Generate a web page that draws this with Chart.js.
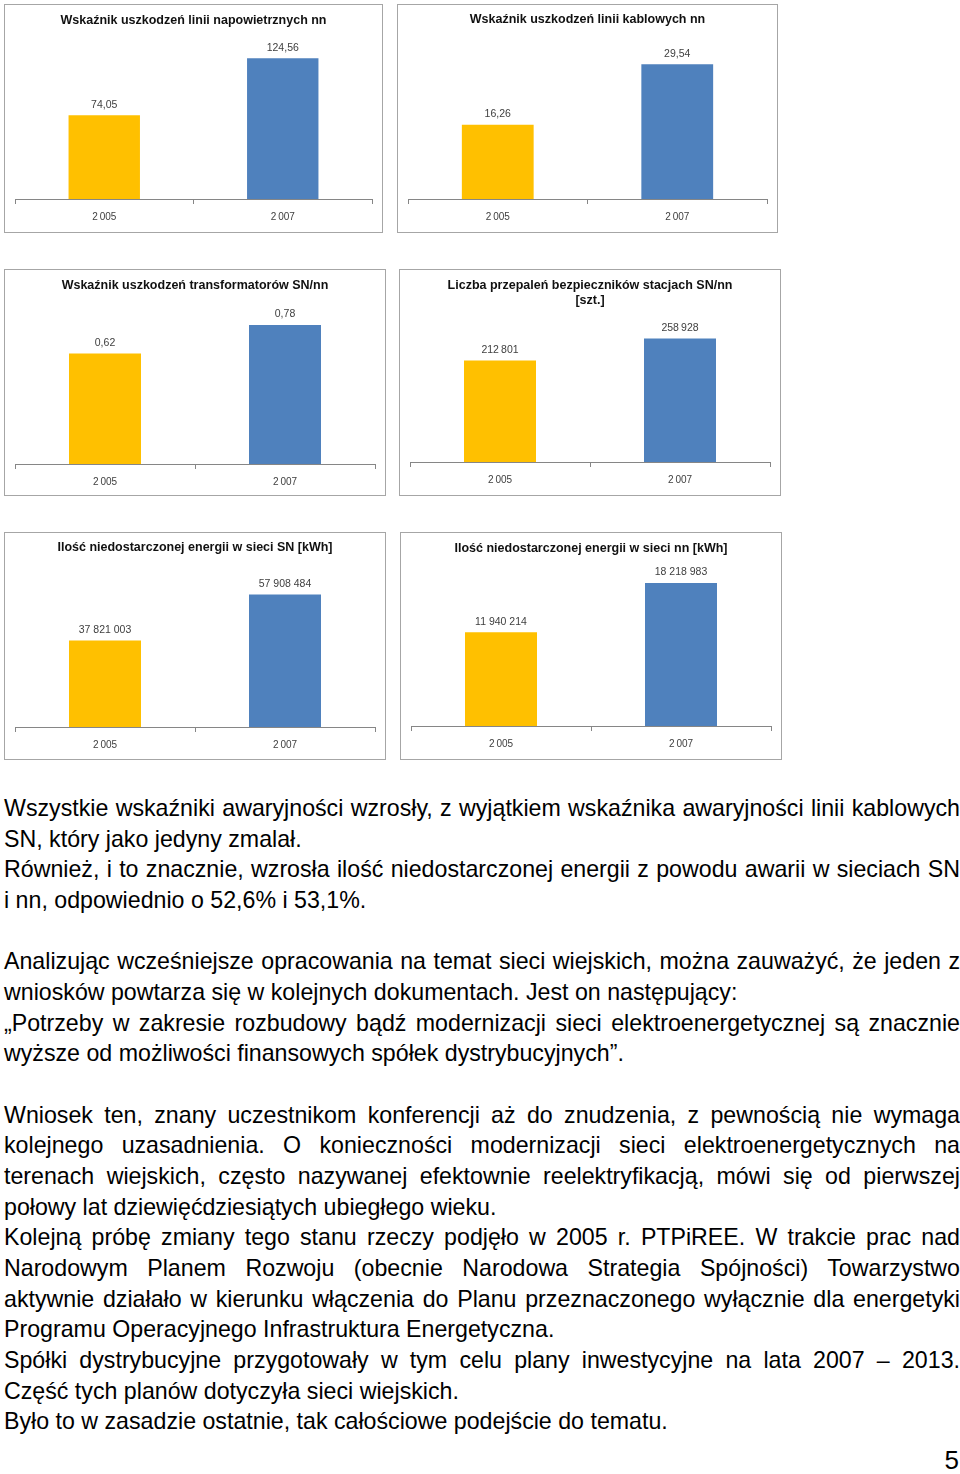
<!DOCTYPE html>
<html lang="pl">
<head>
<meta charset="utf-8">
<title>Wskaźniki awaryjności 2005 / 2007</title>
<script src="https://cdn.jsdelivr.net/npm/chart.js@4.4.1/dist/chart.umd.min.js"></script>
<style>
  html, body { margin: 0; padding: 0; background: #fff; }
  body { position: relative; width: 960px; height: 1474px; overflow: hidden;
         font-family: "Liberation Sans", Arial, sans-serif; color: #000; }

  /* ── Ramki wykresów ── */
  .panel { position: absolute; box-sizing: border-box; border: 1px solid #a6a6a6; background: #fff; }
  .panel canvas { display: block; }
  #p1 { left: 4px;   top: 4px;   width: 379px; height: 229px; }
  #p2 { left: 397px; top: 4px;   width: 381px; height: 229px; }
  #p3 { left: 4px;   top: 269px; width: 382px; height: 227px; }
  #p4 { left: 399px; top: 269px; width: 382px; height: 227px; }
  #p5 { left: 4px;   top: 532px; width: 382px; height: 228px; }
  #p6 { left: 400px; top: 532px; width: 382px; height: 228px; }

  /* ── Tekst ── */
  #text { position: absolute; left: 4px; top: 793px; width: 956px;
          font-size: 23.2px; line-height: 30.67px; }
  #text .j { text-align: justify; text-align-last: justify; }
  #text .blank { height: 30.67px; }
  #page { position: absolute; right: 1px; top: 1447px; font-size: 26px; line-height: 26px;
          font-family: "Liberation Sans Narrow", "Liberation Sans", sans-serif; }
</style>
</head>
<body>

<div class="panel" id="p1"><canvas id="c1"></canvas></div>
<div class="panel" id="p2"><canvas id="c2"></canvas></div>
<div class="panel" id="p3"><canvas id="c3"></canvas></div>
<div class="panel" id="p4"><canvas id="c4"></canvas></div>
<div class="panel" id="p5"><canvas id="c5"></canvas></div>
<div class="panel" id="p6"><canvas id="c6"></canvas></div>

<div id="text">
  <div class="j">Wszystkie wskaźniki awaryjności wzrosły, z wyjątkiem wskaźnika awaryjności linii kablowych</div>
  <div>SN, który jako jedyny zmalał.</div>
  <div class="j">Również, i to znacznie, wzrosła ilość niedostarczonej energii z powodu awarii w sieciach SN</div>
  <div>i nn, odpowiednio o 52,6% i 53,1%.</div>
  <div class="blank"></div>
  <div class="j">Analizując wcześniejsze opracowania na temat sieci wiejskich, można zauważyć, że jeden z</div>
  <div>wniosków powtarza się w kolejnych dokumentach. Jest on następujący:</div>
  <div class="j">„Potrzeby w zakresie rozbudowy bądź modernizacji sieci elektroenergetycznej są znacznie</div>
  <div>wyższe od możliwości finansowych spółek dystrybucyjnych”.</div>
  <div class="blank"></div>
  <div class="j">Wniosek ten, znany uczestnikom konferencji aż do znudzenia, z pewnością nie wymaga</div>
  <div class="j">kolejnego uzasadnienia. O konieczności modernizacji sieci elektroenergetycznych na</div>
  <div class="j">terenach wiejskich, często nazywanej efektownie reelektryfikacją, mówi się od pierwszej</div>
  <div>połowy lat dziewięćdziesiątych ubiegłego wieku.</div>
  <div class="j">Kolejną próbę zmiany tego stanu rzeczy podjęło w 2005 r. PTPiREE. W trakcie prac nad</div>
  <div class="j">Narodowym Planem Rozwoju (obecnie Narodowa Strategia Spójności) Towarzystwo</div>
  <div class="j">aktywnie działało w kierunku włączenia do Planu przeznaczonego wyłącznie dla energetyki</div>
  <div>Programu Operacyjnego Infrastruktura Energetyczna.</div>
  <div class="j">Spółki dystrybucyjne przygotowały w tym celu plany inwestycyjne na lata 2007 – 2013.</div>
  <div>Część tych planów dotyczyła sieci wiejskich.</div>
  <div>Było to w zasadzie ostatnie, tak całościowe podejście do tematu.</div>
</div>
<div id="page">5</div>

<script>
/* ── Dane ── */
const YEARS = ['2\u2009005', '2\u2009007'];

const TITLE_NAPOW  = 'Wskaźnik uszkodzeń linii napowietrznych nn';
const TITLE_KABEL  = 'Wskaźnik uszkodzeń linii kablowych nn';
const TITLE_TRAFO  = 'Wskaźnik uszkodzeń transformatorów SN/nn';
const TITLE_BEZP   = ['Liczba przepaleń bezpieczników stacjach SN/nn', '[szt.]'];
const TITLE_ENS_SN = 'Ilość niedostarczonej energii w sieci SN [kWh]';
const TITLE_ENS_NN = 'Ilość niedostarczonej energii w sieci nn [kWh]';

const VALUES_NAPOW  = [74.05, 124.56];
const VALUES_KABEL  = [16.26, 29.54];
const VALUES_TRAFO  = [0.62, 0.78];
const VALUES_BEZP   = [212801, 258928];
const VALUES_ENS_SN = [37821003, 57908484];
const VALUES_ENS_NN = [11940214, 18218983];

// niewidoczna oś Y (jak w Excelu)
const Y_MAX = [140, 35, 0.9, 300000, 70000000, 20000000];

/* ── Wygląd ── */
const BAR_COLORS = ['#FFC000', '#4F81BD'];
const AXIS_COLOR = '#868686';
const LABEL_COLOR = '#404040';
const FONT = '"Liberation Sans", Arial, sans-serif';

// padding tytułu [góra, dół] i dolny padding wykresu
const TITLE_PAD  = [[7.7, 12.6], [6.7, 12.2], [7.7, 10.4], [7.7, 10.3], [6.7, 11.5], [8.2, 12.3]];
const BOTTOM_PAD = [2, 2, 0, 2, 1, 2];

/* ── Formatowanie etykiet ── */
function fmtDecimal(v) { return v.toFixed(2).replace('.', ','); }
function fmtThin(v)    { return String(v).replace(/\B(?=(\d{3})+(?!\d))/g, '\u2009'); }
function fmtWide(v)    { return String(v).replace(/\B(?=(\d{3})+(?!\d))/g, ' '); }

/* ── Etykiety danych nad słupkami ── */
const valueLabels = {
  id: 'valueLabels',
  afterDatasetsDraw(chart, args, opts) {
    const ctx = chart.ctx;
    const meta = chart.getDatasetMeta(0);
    const data = chart.data.datasets[0].data;
    ctx.save();
    ctx.font = '10.5px ' + FONT;
    ctx.fillStyle = LABEL_COLOR;
    ctx.textAlign = 'center';
    ctx.textBaseline = 'middle';
    meta.data.forEach((bar, i) => {
      ctx.fillText(opts.format(data[i]), bar.x, bar.y - 10.5);
    });
    ctx.restore();
  }
};

function makeChart(id, title, values, yMax, format, idx) {
  const el = document.getElementById(id);
  return new Chart(el, {
    type: 'bar',
    data: {
      labels: YEARS,
      datasets: [{
        data: values,
        backgroundColor: BAR_COLORS,
        borderWidth: 0,
        barPercentage: 0.8,
        categoryPercentage: 0.5
      }]
    },
    options: {
      responsive: true,
      maintainAspectRatio: false,
      animation: false,
      events: [],
      layout: { padding: { left: 10, right: 10, top: 0, bottom: BOTTOM_PAD[idx] } },
      plugins: {
        legend: { display: false },
        tooltip: { enabled: false },
        title: {
          display: true,
          text: title,
          color: '#111',
          font: { family: FONT, size: 12.5, weight: 'bold', lineHeight: 1.24 },
          padding: { top: TITLE_PAD[idx][0], bottom: TITLE_PAD[idx][1] }
        },
        valueLabels: { format }
      },
      scales: {
        x: {
          grid: {
            display: true, drawOnChartArea: false, drawTicks: true,
            tickLength: 5, color: AXIS_COLOR, offset: true
          },
          border: { display: true, color: AXIS_COLOR, width: 1 },
          ticks: {
            color: LABEL_COLOR, padding: 7,
            font: { family: FONT, size: 10, lineHeight: 1.2 }
          }
        },
        y: { display: false, min: 0, max: yMax }
      }
    },
    plugins: [valueLabels]
  });
}

makeChart('c1', TITLE_NAPOW,  VALUES_NAPOW,  Y_MAX[0], fmtDecimal, 0);
makeChart('c2', TITLE_KABEL,  VALUES_KABEL,  Y_MAX[1], fmtDecimal, 1);
makeChart('c3', TITLE_TRAFO,  VALUES_TRAFO,  Y_MAX[2], fmtDecimal, 2);
makeChart('c4', TITLE_BEZP,   VALUES_BEZP,   Y_MAX[3], fmtThin,    3);
makeChart('c5', TITLE_ENS_SN, VALUES_ENS_SN, Y_MAX[4], fmtWide,    4);
makeChart('c6', TITLE_ENS_NN, VALUES_ENS_NN, Y_MAX[5], fmtWide,    5);
</script>
</body>
</html>
